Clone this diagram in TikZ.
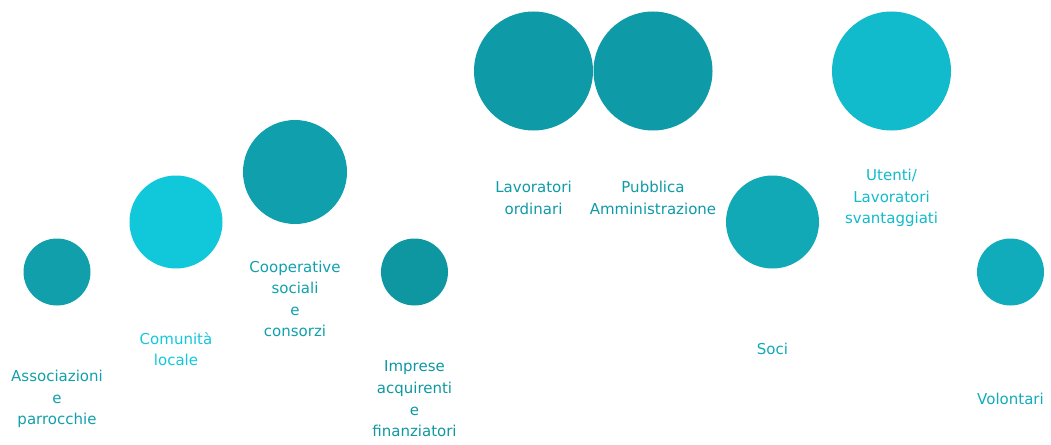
\documentclass[tikz,border=0pt]{standalone}
\usepackage{fontspec}
\setmainfont{DejaVu Sans}
\usepackage{tikz}
\usetikzlibrary{positioning}

\definecolor{tealA}{HTML}{11A0AB}
\definecolor{tealB}{HTML}{11C8DB}
\definecolor{tealC}{HTML}{10A0AD}
\definecolor{tealD}{HTML}{0F97A1}
\definecolor{tealE}{HTML}{0E9AA7}
\definecolor{tealF}{HTML}{11A9B6}
\definecolor{tealG}{HTML}{11BBCB}
\definecolor{tealH}{HTML}{11ACBB}

\begin{document}
\begin{tikzpicture}[x=1pt, y=-1pt,
	dot/.style = { circle, inner sep=0pt, minimum size=#1 },
	lbl/.style = { align=center, inner sep=0pt,
	  font=\fontsize{15}{21.6}\selectfont, yshift=-127pt }]

  \useasboundingbox (0,0) rectangle (1051,444);

  \draw (57,272) node[dot=67pt, fill=tealA] (assoc) {};
  \draw (176,222) node[dot=93pt, fill=tealB] (comun) {};
  \draw (295,172) node[dot=104pt, fill=tealC] (coop) {};
  \draw (414.5,272) node[dot=67pt, fill=tealD] (impr) {};
  \draw (533.5,71) node[dot=119pt, fill=tealE] (lavor) {};
  \draw (653,71) node[dot=119pt, fill=tealE] (pa) {};
  \draw (772.5,222) node[dot=93pt, fill=tealF] (soci) {};
  \draw (891.5,71) node[dot=119pt, fill=tealG] (utenti) {};
  \draw (1010.5,272) node[dot=67pt, fill=tealH] (volont) {};

  \node[lbl, text=tealA] (assoc-l) at (assoc) {Associazioni\\e\\parrocchie};
  \node[lbl, text=tealB] (comun-l) at (comun) {Comunità\\locale};
  \node[lbl, text=tealC] (coop-l) at (coop) {Cooperative\\sociali\\e\\consorzi};
  \node[lbl, text=tealD] (impr-l) at (impr) {Imprese\\acquirenti\\e\\finanziatori};
  \node[lbl, text=tealE] (lavor-l) at (lavor) {Lavoratori\\ordinari};
  \node[lbl, text=tealE] (pa-l) at (pa) {Pubblica\\Amministrazione};
  \node[lbl, text=tealF] (soci-l) at (soci) {Soci};
  \node[lbl, text=tealG] (utenti-l) at (utenti) {Utenti/\\Lavoratori\\svantaggiati};
  \node[lbl, text=tealH] (volont-l) at (volont) {Volontari};
\end{tikzpicture}
\end{document}
